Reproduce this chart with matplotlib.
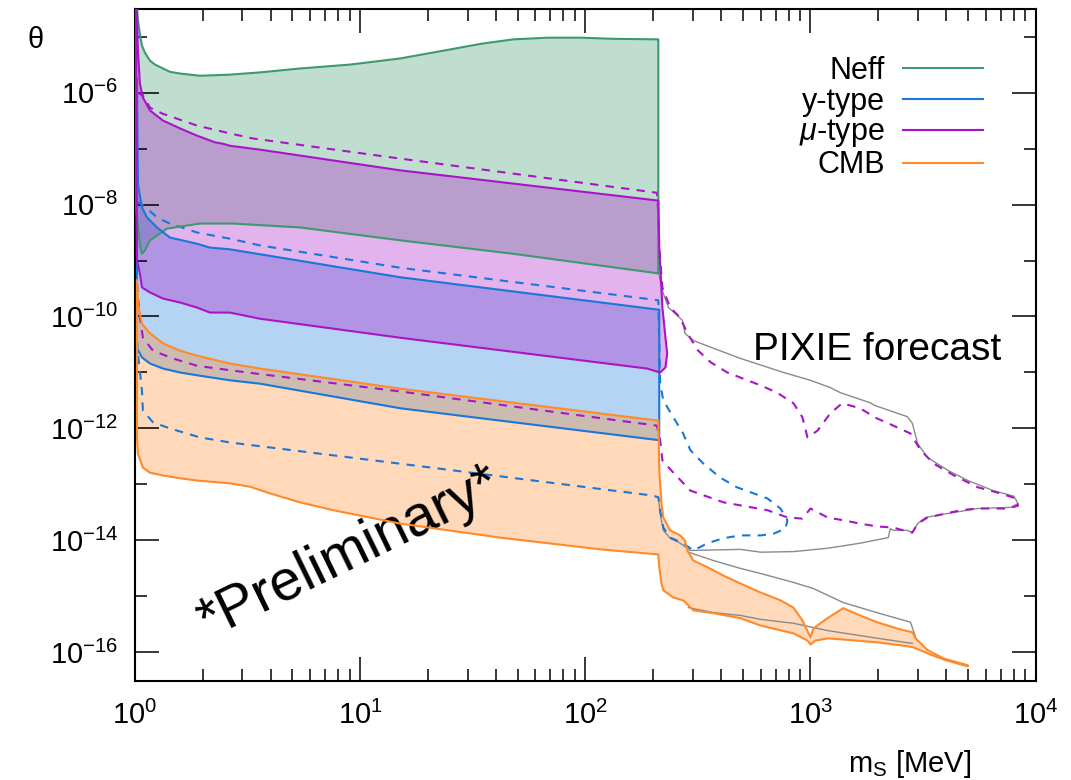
import numpy as np
import matplotlib.pyplot as plt
from matplotlib.ticker import FixedLocator, LogLocator, LogFormatterMathtext, NullFormatter

plt.rcParams['font.family'] = ['Liberation Sans', 'DejaVu Sans']
plt.rcParams['mathtext.fontset'] = 'custom'
plt.rcParams['mathtext.rm'] = 'Liberation Sans'
plt.rcParams['mathtext.it'] = 'Liberation Sans:italic'

# boundaries: scalar mass m_S [MeV] and log10(theta)
neff_top_m = [1.0, 1.02, 1.031, 1.052, 1.074, 1.108, 1.166, 1.227, 1.332, 1.43, 1.585, 1.945, 2.64,
              3.59, 5.41, 9.04, 15.1, 25.1, 34.3, 47.8, 67.9, 95.2, 133, 211]
neff_top_lt = [-4.3, -4.45, -4.71, -4.95, -5.16, -5.29, -5.43, -5.50, -5.57, -5.63, -5.66, -5.70, -5.68,
               -5.64, -5.57, -5.50, -5.39, -5.23, -5.13, -5.05, -5.02, -5.02, -5.04, -5.05]
neff_bot_m = [1.0, 1.01, 1.031, 1.052, 1.074, 1.108, 1.166, 1.39, 1.945, 2.73, 5.41, 15.1, 47.8, 211]
neff_bot_lt = [-7.9, -8.02, -8.38, -8.73, -8.88, -8.82, -8.64, -8.43, -8.34, -8.34, -8.41, -8.64, -8.88, -9.23]

ytype_top_m = [1.021, 1.026, 1.031, 1.074, 1.131, 1.252, 1.43, 1.886, 2.154, 2.64, 15.1, 213]
ytype_top_lt = [-5.75, -6.73, -7.63, -8.05, -8.23, -8.41, -8.59, -8.70, -8.77, -8.80, -9.30, -9.88]
ytype_bot_m = [1.021, 1.074, 1.166, 1.332, 1.585, 1.886, 2.64, 3.59, 15.1, 213]
ytype_bot_lt = [-10.57, -10.73, -10.84, -10.93, -11.0, -11.05, -11.14, -11.20, -11.64, -12.21]

mu_top_m = [1.012, 1.021, 1.031, 1.052, 1.085, 1.166, 1.332, 1.585, 1.886, 2.27, 2.435, 2.64, 3.59,
            15.1, 211, 213, 220, 227, 231, 227]
mu_top_lt = [-4.4, -4.63, -5.25, -5.84, -6.09, -6.32, -6.5, -6.64, -6.77, -6.89, -6.91, -6.95, -7.02,
             -7.39, -7.93, -8.77, -9.84, -10.38, -10.66, -10.91]
mu_bot_m = [1.015, 1.021, 1.052, 1.074, 1.166, 1.332, 1.585, 1.886, 2.154, 2.64, 3.59, 15.1, 188, 215]
mu_bot_lt = [-8.2, -9.0, -9.23, -9.48, -9.57, -9.68, -9.75, -9.84, -9.93, -9.93, -10.04, -10.38, -10.93, -11.0]

cmb_top_m = [1.021, 1.031, 1.074, 1.166, 1.332, 1.585, 1.886, 2.64, 3.59, 15.1,
             211, 213, 218, 222, 238, 264, 277, 284, 302, 349,
             411, 489, 600, 736, 840, 921, 1000, 1031, 1190, 1398,
             1660, 1972, 2506, 2836, 2928, 3314, 3906, 5000]
cmb_top_lt = [-9.36, -9.77, -10.13, -10.30, -10.48, -10.61, -10.70, -10.84, -10.93, -11.29,
              -11.86, -12.75, -13.34, -13.59, -13.82, -13.91, -14.0, -14.18, -14.36, -14.48,
              -14.63, -14.77, -14.93, -15.07, -15.20, -15.43, -15.73, -15.57, -15.39, -15.21,
              -15.34, -15.46, -15.59, -15.64, -15.75, -15.96, -16.11, -16.23]
cmb_bot_m = [1.021, 1.031, 1.085, 1.166, 1.332, 1.585, 1.886, 2.64, 3.24, 3.98,
             5.41, 7.59, 15.1, 41.9, 117, 211, 213, 218, 222, 246,
             272, 287, 302, 371, 489, 600, 840, 970, 1000, 1052,
             1190, 1398, 1972, 2693, 2866, 3419, 3992, 5000]
cmb_bot_lt = [-12.16, -12.45, -12.70, -12.79, -12.84, -12.89, -12.93, -12.98, -13.04, -13.16,
              -13.32, -13.46, -13.70, -13.95, -14.16, -14.25, -14.48, -14.77, -14.89, -15.02,
              -15.07, -15.16, -15.25, -15.30, -15.39, -15.52, -15.66, -15.79, -15.86, -15.79,
              -15.75, -15.77, -15.82, -15.89, -15.91, -16.04, -16.14, -16.25]

# PIXIE forecast contours (closed)
mu_fc_m = [1.021, 1.085, 1.166, 1.332, 1.886, 2.64, 3.34, 15.1, 208, 211,
           213, 220, 238, 264, 284, 317, 361, 427, 600, 710,
           840, 921, 970, 1074, 1225, 1383, 1660, 1972, 2334, 2778,
           3087, 3530, 4340, 5530, 6980, 8170, 8350, 7500, 5530, 4660,
           3784, 3314, 2991, 2836, 2584, 2334, 1972, 1660, 1398, 1190,
           1000, 921, 790, 644, 411, 293, 246, 220, 215, 208,
           15.1, 3.15, 2.64, 1.886, 1.475, 1.202, 1.085, 1.052, 1.031, 1.021]
mu_fc_lt = [-6.0, -6.05, -6.27, -6.38, -6.59, -6.73, -6.82, -7.18, -7.79, -8.16,
            -8.77, -9.48, -9.84, -10.02, -10.30, -10.61, -10.82, -11.0, -11.23, -11.36,
            -11.55, -11.80, -12.16, -12.04, -11.73, -11.55, -11.64, -11.82, -11.95, -12.09,
            -12.39, -12.63, -12.84, -13.05, -13.16, -13.25, -13.38, -13.43, -13.43, -13.46,
            -13.54, -13.59, -13.70, -13.86, -13.82, -13.77, -13.75, -13.70, -13.64, -13.59,
            -13.43, -13.61, -13.59, -13.46, -13.32, -13.11, -12.79, -12.57, -12.21, -11.95,
            -11.34, -11.0, -10.96, -10.88, -10.75, -10.61, -10.38, -10.02, -9.66, -9.36]
ytype_fc_m = [1.021, 1.085, 1.131, 1.252, 1.43, 1.886, 2.64, 3.59, 15.1, 211,
              215, 222, 246, 272, 293, 335, 398, 471, 644, 736,
              790, 774, 685, 600, 489, 411, 349, 302, 272, 238,
              222, 215, 211, 200, 15.1, 2.64, 1.945, 1.43, 1.202, 1.085,
              1.074, 1.031, 1.021]
ytype_fc_lt = [-7.95, -8.02, -8.07, -8.23, -8.34, -8.5, -8.61, -8.73, -9.13, -9.71,
               -11.2, -11.5, -11.8, -12.09, -12.39, -12.63, -12.88, -13.05, -13.25, -13.43,
               -13.64, -13.79, -13.88, -13.91, -13.91, -13.96, -14.05, -14.18, -14.05, -13.95,
               -13.77, -13.46, -13.23, -13.20, -12.63, -12.25, -12.16, -12.0, -11.89, -11.68,
               -11.32, -10.66, -10.43]

# combined forecast envelope and the CMB forecast edges (grey)
pixie_m = [211, 215, 222, 234, 256, 270, 277, 302, 361, 427,
           489, 759, 1000, 1225, 1355, 1838, 1931, 2693, 2836, 2991,
           3314, 4079, 5000, 6480, 8000, 8350, 7750, 5530, 4660, 3784,
           3246, 2991, 2836, 2693, 2334, 2262, 2215, 1660, 1190, 840,
           600, 489, 293, 264, 238, 222, 215, 211]
pixie_lt = [-9.18, -9.36, -9.59, -9.84, -9.98, -10.07, -10.30, -10.43, -10.55, -10.66,
            -10.75, -11.0, -11.14, -11.27, -11.36, -11.54, -11.59, -11.79, -11.91, -12.27,
            -12.52, -12.75, -12.93, -13.11, -13.21, -13.34, -13.41, -13.43, -13.48, -13.54,
            -13.59, -13.70, -13.86, -13.82, -13.82, -13.79, -13.95, -14.05, -14.14, -14.20,
            -14.21, -14.16, -14.18, -14.05, -13.96, -13.82, -13.52, -13.23]
cmb_fc_hi_m = [287, 371, 489, 600, 840, 1031, 1398, 1972, 2778, 2866, 2928]
cmb_fc_hi_lt = [-14.21, -14.36, -14.50, -14.59, -14.75, -14.86, -15.11, -15.29, -15.46, -15.61, -15.73]
cmb_fc_lo_m = [287, 371, 489, 600, 840, 1190, 1660, 2334, 2836]
cmb_fc_lo_lt = [-15.20, -15.29, -15.34, -15.41, -15.48, -15.61, -15.70, -15.79, -15.84]

GREEN = '#3d9a6e'
BLUE = '#1978d7'
PURPLE = '#aa14c8'
ORANGE = '#ff8a2a'
GREY = '#8a8a8a'
DASH = (0, (4, 3.5))

fig = plt.figure(figsize=(10.71, 7.80), dpi=100)
ax = fig.add_axes([0.126, 0.127, 0.841, 0.862])


def band(top_m, top_lt, bot_m, bot_lt, color, label):
    xs = np.concatenate([top_m, bot_m[::-1]])
    ys = 10.0 ** np.concatenate([top_lt, bot_lt[::-1]])
    ax.fill(xs, ys, color=color, alpha=0.32, lw=0, zorder=1)
    return xs, ys


def contour(m, lt, **kw):
    m = np.append(m, m[0])
    th = 10.0 ** np.append(lt, lt[0])
    return ax.plot(m, th, **kw)[0]


bands = [
    (neff_top_m, neff_top_lt, neff_bot_m, neff_bot_lt, GREEN, 'Neff'),
    (ytype_top_m, ytype_top_lt, ytype_bot_m, ytype_bot_lt, BLUE, 'y-type'),
    (cmb_top_m, cmb_top_lt, cmb_bot_m, cmb_bot_lt, ORANGE, 'CMB'),
    (mu_top_m, mu_top_lt, mu_bot_m, mu_bot_lt, PURPLE, r'$\mu$-type'),
]
outlines = []
for b in bands:
    outlines.append((band(*b), b[4], b[5]))

# forecast lines
ax.plot(pixie_m, 10.0 ** np.array(pixie_lt), color=GREY, lw=1.0, zorder=2)
ax.plot(cmb_fc_hi_m, 10.0 ** np.array(cmb_fc_hi_lt), color=GREY, lw=1.0, zorder=2)
ax.plot(cmb_fc_lo_m, 10.0 ** np.array(cmb_fc_lo_lt), color=GREY, lw=1.0, zorder=2)
contour(mu_fc_m, mu_fc_lt, color=PURPLE, lw=1.5, ls=DASH, zorder=3)
contour(ytype_fc_m, ytype_fc_lt, color=BLUE, lw=1.5, ls=DASH, zorder=3)

handles = {}
for (xs, ys), color, label in outlines:
    line, = ax.plot(np.append(xs, xs[0]), np.append(ys, ys[0]), color=color, lw=1.5, zorder=4)
    handles[label] = line

ax.set_xscale('log')
ax.set_yscale('log')
ax.set_xlim(1, 1e4)
ax.set_ylim(10 ** -16.51, 10 ** -4.5)

ax.xaxis.set_major_locator(LogLocator(base=10))
ax.xaxis.set_minor_locator(LogLocator(base=10, subs=np.arange(2, 10)))
ax.xaxis.set_minor_formatter(NullFormatter())
ax.xaxis.set_major_formatter(LogFormatterMathtext())
ax.yaxis.set_major_locator(FixedLocator([10.0 ** e for e in range(-16, -4, 2)]))
ax.yaxis.set_minor_locator(FixedLocator([10.0 ** e for e in range(-15, -4, 2)]))
ax.yaxis.set_major_formatter(LogFormatterMathtext())
ax.yaxis.set_minor_formatter(NullFormatter())

ax.tick_params(which='both', direction='in', top=True, right=True, width=1.1, labelsize=21)
ax.tick_params(which='major', length=17)
ax.tick_params(which='minor', length=8.5)
ax.tick_params(axis='x', which='major', pad=14)
ax.tick_params(axis='y', which='major', pad=12)
for s in ax.spines.values():
    s.set_linewidth(1.5)

ax.set_ylabel('θ', rotation=0, fontsize=21, ha='center', va='center')
ax.yaxis.set_label_coords(-0.11, 0.953)
ax.set_xlabel(r'm$_\mathregular{S}$ [MeV]', fontsize=21)
ax.xaxis.set_label_coords(0.86, -0.1)

order = ['Neff', 'y-type', r'$\mu$-type', 'CMB']
ax.legend([handles[k] for k in order], order, loc='upper right', bbox_to_anchor=(0.941, 0.93),
          frameon=False, markerfirst=False, fontsize=22, handlelength=2.6, handletextpad=0.6,
          labelspacing=0.03, borderpad=0, borderaxespad=0)

ax.text(0.962, 0.477, 'PIXIE forecast', transform=ax.transAxes, fontsize=28,
        ha='right', va='baseline')
ax.text(0.238, 0.19, '*Preliminary*', transform=ax.transAxes, fontsize=41,
        rotation=26, rotation_mode='anchor', ha='center', va='center')

fig.savefig('out.png', dpi=100)
